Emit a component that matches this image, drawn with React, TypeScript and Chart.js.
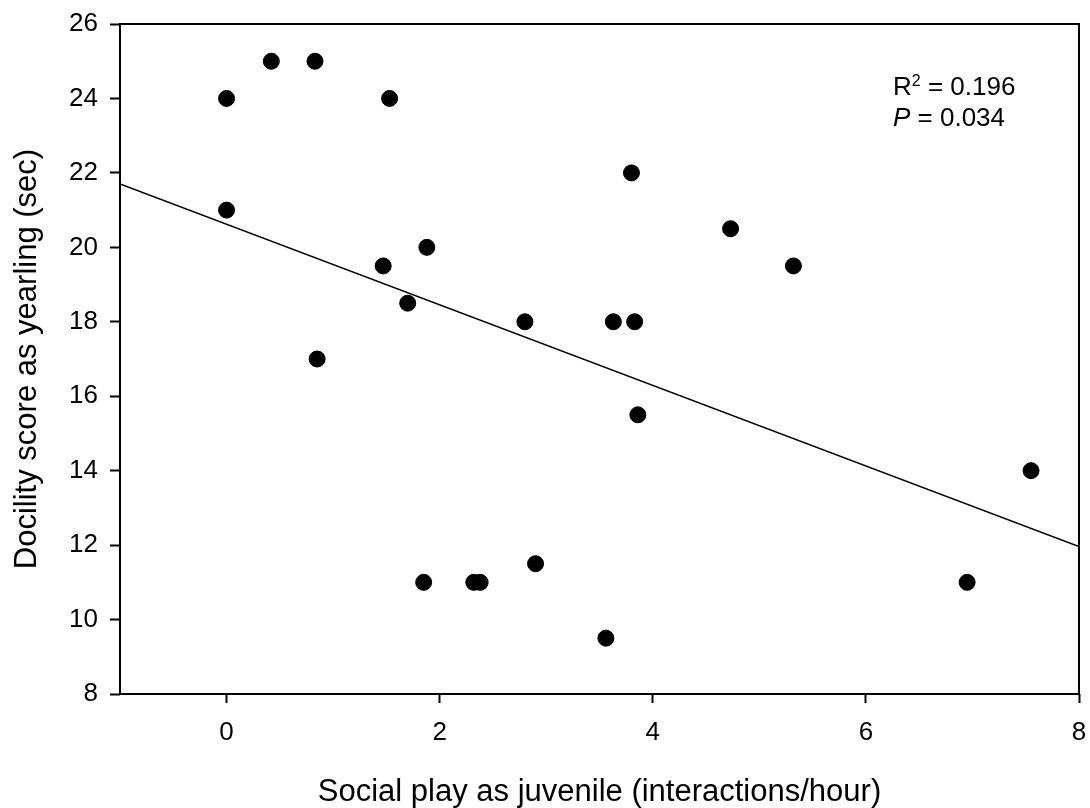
import React, { useEffect, useRef } from "react";
import { Chart, registerables } from "chart.js";

Chart.register(...registerables);

const playX = [0, 0, 0.42, 0.83, 0.85, 1.53, 1.47, 1.7, 1.88, 1.85, 2.32, 2.38, 2.8, 2.9, 3.56, 3.63, 3.8, 3.83, 3.86, 4.73, 5.32, 6.95, 7.55];
const docilityY = [24, 21, 25, 25, 17, 24, 19.5, 18.5, 20, 11, 11, 11, 18, 11.5, 9.5, 18, 22, 18, 15.5, 20.5, 19.5, 11, 14];
const fitX = [-1, 8];
const fitY = [21.7, 11.96];
const xTicks = [0, 2, 4, 6, 8];
const yTicks = [8, 10, 12, 14, 16, 18, 20, 22, 24, 26];
const statLines = ["R2 = 0.196", "P = 0.034"];
const xTitle = "Social play as juvenile (interactions/hour)";
const yTitle = "Docility score as yearling (sec)";

const FONT = "Arial, 'Liberation Sans', sans-serif";

export default function App() {
  const ref = useRef<HTMLCanvasElement | null>(null);
  useEffect(() => {
    document.body.style.margin = "0";
    const frame = {
      id: "frame",
      afterDatasetsDraw(chart: any) {
        const { ctx, chartArea: a } = chart;
        ctx.save();
        ctx.strokeStyle = "#000";
        ctx.lineWidth = 2;
        ctx.strokeRect(a.left, a.top, a.right - a.left, a.bottom - a.top);
        // annotation
        const x0 = a.left + 773;
        const b1 = a.top + 71;
        const b2 = a.top + 102;
        ctx.fillStyle = "#000";
        ctx.textBaseline = "alphabetic";
        ctx.font = `26px ${FONT}`;
        ctx.fillText("R", x0, b1);
        const rw = ctx.measureText("R").width;
        ctx.font = `16px ${FONT}`;
        ctx.fillText("2", x0 + rw, b1 - 9);
        const sw = ctx.measureText("2").width;
        ctx.font = `26px ${FONT}`;
        ctx.fillText(statLines[0].slice(2), x0 + rw + sw, b1);
        ctx.font = `italic 26px ${FONT}`;
        ctx.fillText("P", x0, b2);
        const pw = ctx.measureText("P").width;
        ctx.font = `26px ${FONT}`;
        ctx.fillText(statLines[1].slice(1), x0 + pw, b2);
        ctx.restore();
      },
    };
    const chart = new Chart(ref.current!, {
      type: "scatter",
      data: {
        datasets: [
          {
            type: "line",
            data: fitX.map((x, i) => ({ x, y: fitY[i] })),
            borderColor: "#000",
            borderWidth: 1.5,
            pointRadius: 0,
            fill: false,
          } as any,
          {
            data: playX.map((x, i) => ({ x, y: docilityY[i] })),
            backgroundColor: "#000",
            borderColor: "#000",
            pointRadius: 8,
            pointHoverRadius: 8,
          },
        ],
      },
      options: {
        animation: false,
        responsive: false,
        events: [],
        layout: { padding: { left: 0, top: 24, right: 11, bottom: 0 } },
        plugins: { legend: { display: false }, tooltip: { enabled: false } },
        scales: {
          x: {
            type: "linear",
            min: -1,
            max: 8,
            afterBuildTicks(s: any) {
              s.ticks = xTicks.map((v) => ({ value: v }));
            },
            afterFit(s: any) {
              s.height = 114;
              s.paddingLeft = 0;
              s.paddingRight = 0;
            },
            border: { display: false },
            grid: { drawOnChartArea: false, tickLength: 9, tickColor: "#000", tickWidth: 2 },
            ticks: { color: "#000", font: { family: FONT, size: 26 }, padding: 14, maxRotation: 0 },
            title: { display: true, text: xTitle, color: "#000", font: { family: FONT, size: 31 }, padding: { top: 0, bottom: -3 } },
          },
          y: {
            type: "linear",
            min: 8,
            max: 26,
            afterBuildTicks(s: any) {
              s.ticks = yTicks.map((v) => ({ value: v }));
            },
            afterFit(s: any) {
              s.width = 120;
              s.paddingTop = 0;
              s.paddingBottom = 0;
            },
            border: { display: false },
            grid: { drawOnChartArea: false, tickLength: 10, tickColor: "#000", tickWidth: 2 },
            ticks: { color: "#000", font: { family: FONT, size: 26 }, padding: 12 },
            title: { display: true, text: yTitle, color: "#000", font: { family: FONT, size: 31 }, padding: { top: 9, bottom: 0 } },
          },
        },
      },
      plugins: [frame],
    });
    return () => chart.destroy();
  }, []);
  return <canvas ref={ref} width={1090} height={808} style={{ display: "block" }} />;
}
